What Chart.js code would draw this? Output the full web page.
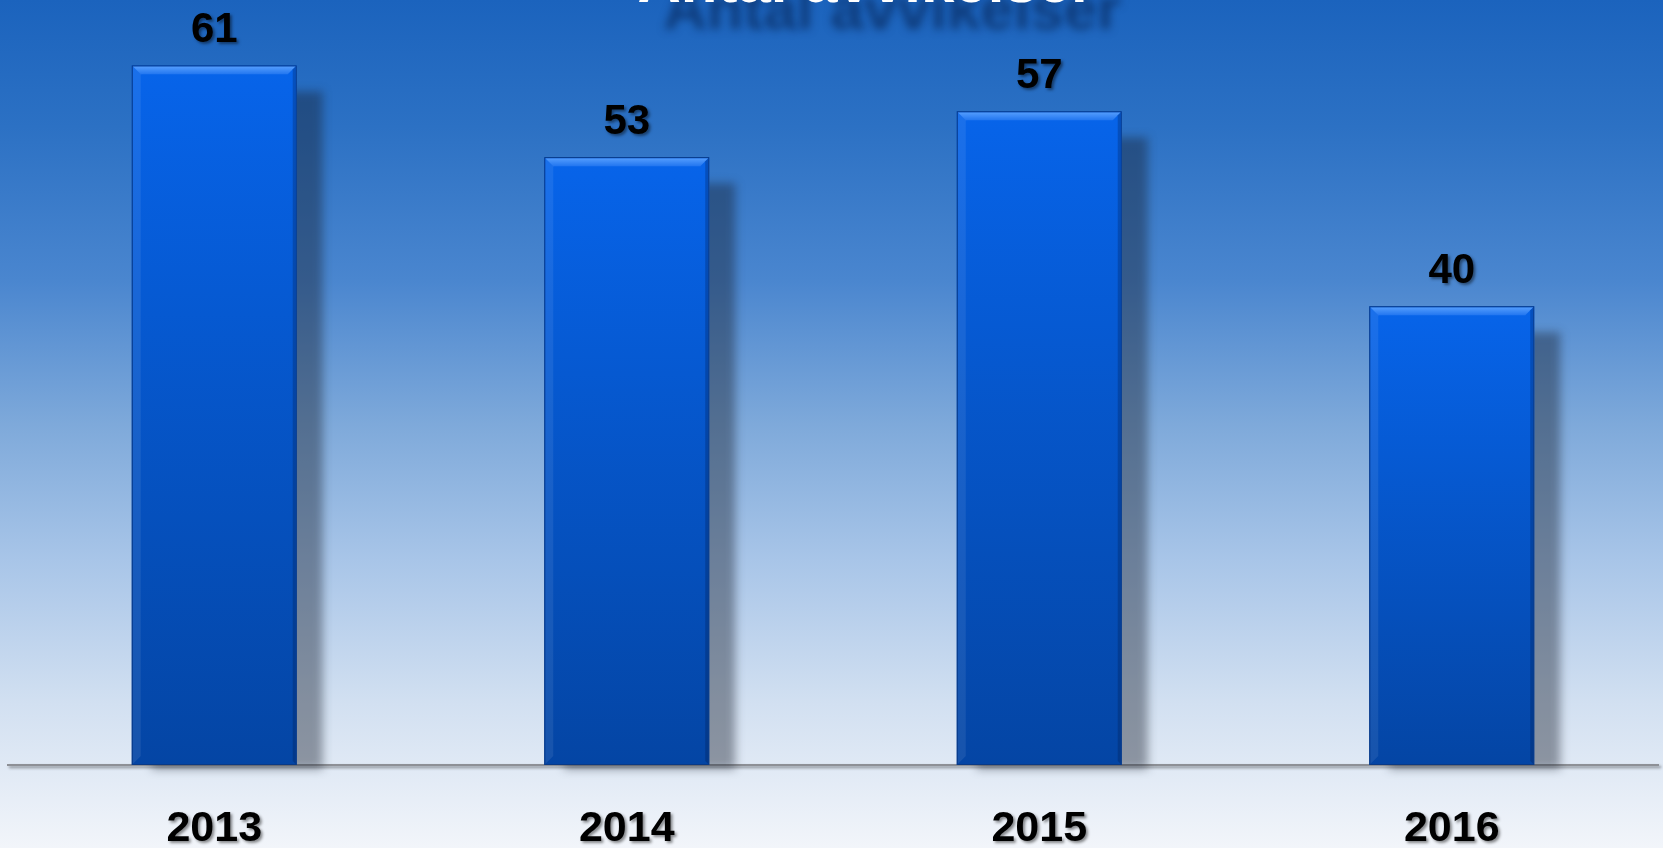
<!DOCTYPE html>
<html>
<head>
<meta charset="utf-8">
<script src="https://cdn.jsdelivr.net/npm/chart.js@4/dist/chart.umd.min.js"></script>
<style>
  html, body { margin: 0; padding: 0; overflow: hidden; }
  body {
    width: 1663px; height: 848px;
    background: linear-gradient(to bottom, #1b63bd 0%, #2c71c4 15%, #4a86cf 33%, #7ea9da 50%, #a8c5e8 66%, #d2e0f1 83%, #f2f5fa 100%);
  }
  canvas { display: block; }
</style>
</head>
<body>
<canvas id="chart" width="1663" height="848"></canvas>
<script>
const title = 'Antal avvikelser';
const years = ['2013', '2014', '2015', '2016'];
const counts = [61, 53, 57, 40];

const ctx = document.getElementById('chart').getContext('2d');
const FONT = '"Liberation Sans", Arial, sans-serif';

function barGradient(context) {
  const chart = context.chart;
  const y = chart.scales.y;
  if (!y || !context.parsed) return '#0558d4';
  const top = y.getPixelForValue(context.parsed.y);
  const bottom = y.getPixelForValue(0);
  if (!isFinite(top) || !isFinite(bottom)) return '#0558d4';
  const g = chart.ctx.createLinearGradient(0, top, 0, bottom);
  g.addColorStop(0, '#0764ea');
  g.addColorStop(1, '#0445a4');
  return g;
}

// perspective shadows behind the bars + shadow for axis labels
const shadowPlugin = {
  id: 'shadows',
  beforeDraw(chart) {
    const c = chart.ctx;
    c.save();
    c.shadowColor = 'rgba(0,0,0,0.45)';
    c.shadowOffsetX = 2;
    c.shadowOffsetY = 2;
    c.shadowBlur = 3;
  },
  beforeDatasetsDraw(chart) {
    const c = chart.ctx;
    c.restore();
    const meta = chart.getDatasetMeta(0);
    c.save();
    c.filter = 'blur(5px)';
    c.fillStyle = 'rgba(25,32,45,0.42)';
    meta.data.forEach(bar => {
      const w = bar.width;
      c.fillRect(bar.x - w / 2 + 20, bar.y + 26, w + 6, bar.base - bar.y - 22);
    });
    c.restore();
  }
};

// bevel on bar tops + value labels + title
const decoPlugin = {
  id: 'deco',
  afterDatasetsDraw(chart) {
    const c = chart.ctx;
    const meta = chart.getDatasetMeta(0);
    meta.data.forEach((bar, i) => {
      const l = bar.x - bar.width / 2, r = bar.x + bar.width / 2;
      const t = bar.y, b = bar.base, d = 9;
      c.save();
      const g = c.createLinearGradient(0, t, 0, t + d);
      g.addColorStop(0, '#5aa2ff');
      g.addColorStop(1, '#2276f0');
      c.fillStyle = g;
      c.beginPath();
      c.moveTo(l + 1, t + 1); c.lineTo(r - 1, t + 1); c.lineTo(r - d, t + d); c.lineTo(l + d, t + d);
      c.closePath(); c.fill();
      c.fillStyle = 'rgba(255,255,255,0.08)';
      c.beginPath();
      c.moveTo(l + 1, t + 1); c.lineTo(l + d, t + d); c.lineTo(l + d, b - d); c.lineTo(l + 1, b - 1);
      c.closePath(); c.fill();
      c.fillStyle = 'rgba(0,20,60,0.25)';
      c.beginPath();
      c.moveTo(r - 1, t + 1); c.lineTo(r - 4, t + 4); c.lineTo(r - 4, b - 4); c.lineTo(r - 1, b - 1);
      c.closePath(); c.fill();
      c.strokeStyle = '#0a3a86';
      c.lineWidth = 1;
      c.strokeRect(l + 0.5, t + 0.5, bar.width - 1, b - t - 1);

      c.font = 'bold 42px ' + FONT;
      c.textAlign = 'center';
      c.textBaseline = 'alphabetic';
      c.fillStyle = '#000';
      c.shadowColor = 'rgba(0,0,0,0.45)';
      c.shadowOffsetX = 2; c.shadowOffsetY = 2; c.shadowBlur = 3;
      c.fillText(String(counts[i]), bar.x, t - 23);
      c.restore();
    });
  },
  afterDraw(chart) {
    const c = chart.ctx;
    c.save();
    c.font = 'bold 60px ' + FONT;
    c.textAlign = 'center';
    c.textBaseline = 'alphabetic';
    c.fillStyle = '#ffffff';
    c.shadowColor = 'rgba(10,45,100,0.75)';
    c.shadowOffsetX = 26; c.shadowOffsetY = 27; c.shadowBlur = 8;
    c.fillText(title, 866, 2);
    c.restore();
  }
};

new Chart(ctx, {
  type: 'bar',
  data: {
    labels: years,
    datasets: [{
      data: counts,
      backgroundColor: barGradient,
      borderWidth: 0,
      barPercentage: 0.4,
      categoryPercentage: 1
    }]
  },
  options: {
    responsive: false,
    animation: false,
    layout: { padding: { left: 8, right: 5, top: 0, bottom: 0 } },
    plugins: { legend: { display: false }, tooltip: { enabled: false }, title: { display: false } },
    scales: {
      x: {
        grid: { display: false, drawTicks: false },
        border: { display: true, color: '#8d9096', width: 2 },
        ticks: { color: '#000', font: { family: FONT, size: 43, weight: 'bold' }, padding: 38 },
        afterFit: s => { s.height = 83; }
      },
      y: {
        display: false,
        min: 0,
        max: 66.7
      }
    }
  },
  plugins: [shadowPlugin, decoPlugin]
});
</script>
</body>
</html>
